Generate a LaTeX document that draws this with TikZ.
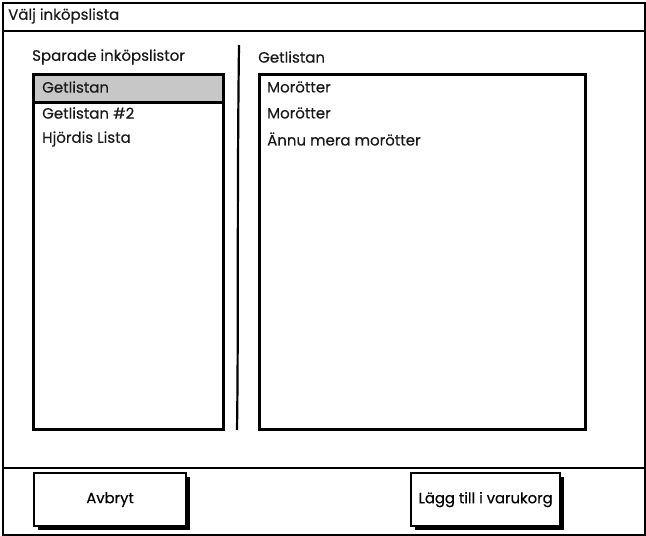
\documentclass[tikz,border=0pt]{standalone}
\usepackage{fontspec}
\setmainfont{Poppins}[FakeBold=0.4]
\usetikzlibrary{positioning, shadows}

\begin{document}
\begin{tikzpicture}[x=1pt, y=-1pt,
  window/.style={rectangle, draw=black, line width=2.2pt, minimum width=642pt, minimum height=532pt, anchor=north west, inner sep=0pt},
  listbox/.style={rectangle, draw=black, line width=2.5pt, fill=white, minimum height=355pt, anchor=north west, inner sep=0pt},
  selected/.style={rectangle, draw=black, line width=2.5pt, fill=black!22, minimum width=190pt, minimum height=28pt, anchor=north west, inner sep=0pt},
  heading/.style={anchor=west, inner sep=0pt, font=\fontsize{15}{17}\selectfont, text=black!90},
  item/.style={anchor=west, inner sep=0pt, font=\fontsize{15}{17}\selectfont, text=black!90},
  button/.style={rectangle, draw=black, line width=2.2pt, fill=white, minimum height=53pt, inner sep=0pt, anchor=north west, font=\fontsize{14.8}{17}\selectfont, drop shadow={shadow xshift=4pt, shadow yshift=-4pt, opacity=1, fill=black}},
  rule/.style={line width=2.2pt, black}]
  \useasboundingbox (0,0) rectangle (646,536);

  % Nodes
  \node (frame) [window] at (2,2) {};
  \node (title) [heading] at (8,16) {Välj inköpslista};

  \node (savedhead) [heading] at (32,57) {Sparade inköpslistor};
  \node (savedlists) [listbox, minimum width=190pt] at (32,73) {};
  \node (selrow) [selected] at (32,73) {};
  \node (list1) [item] at (42,87) {Getlistan};
  \node (list2) [item, below=26pt of list1.west, anchor=west] {Getlistan \#2};
  \node (list3) [item, below=26pt of list2.west, anchor=west] {Hjördis Lista};

  \node (itemshead) [heading] at (258,57) {Getlistan};
  \node (items) [listbox, minimum width=326pt] at (258,73) {};
  \node (item1) [item] at (267,87) {Morötter};
  \node (item2) [item, below=26pt of item1.west, anchor=west] {Morötter};
  \node (item3) [item, below=26pt of item2.west, anchor=west] {Ännu mera morötter};

  \node (cancel) [button, minimum width=152pt] at (33,472) {Avbryt};
  \node (addcart) [button, minimum width=149pt] at (410,472) {Lägg till i varukorg};

  \coordinate (titleL) at (2,31);
  \coordinate (titleR) at (644,31);
  \coordinate (footL) at (2,468);
  \coordinate (footR) at (644,468);
  \coordinate (divtop) at (239,45);
  \coordinate (divbot) at (237,430);

  % Lines
  \draw [rule] (titleL) -- (titleR);
  \draw [rule] (footL) -- (footR);
  \draw [rule] (divtop) .. controls (237,200) and (238.5,330) .. (divbot);

\end{tikzpicture}
\end{document}
